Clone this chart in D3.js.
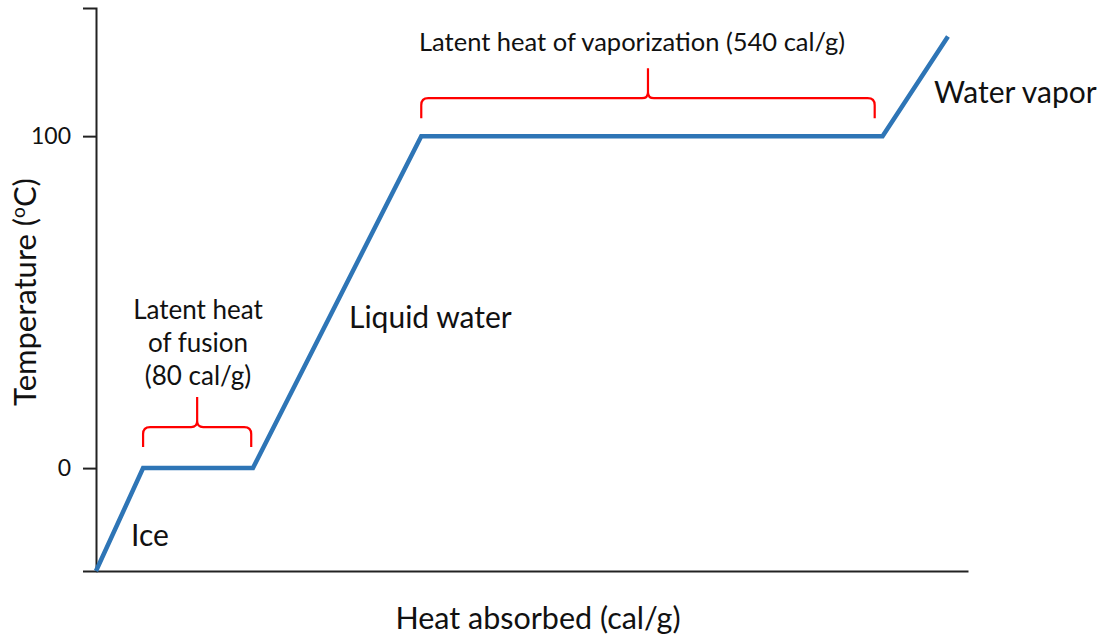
<!DOCTYPE html>
<html>
<head>
<meta charset="utf-8">
<script src="https://cdn.jsdelivr.net/npm/d3@7"></script>
<style>
  html, body { margin: 0; padding: 0; background: #fff; }
  svg { display: block; }
  text { font-family: Lato, "Open Sans", sans-serif; fill: #111; }
</style>
</head>
<body>
<svg id="chart" width="1104" height="639"></svg>
<script>
// Heating curve of water (schematic heat axis)
const heat = [0, 54, 180, 373, 902, 977];
const temperature = [-31, 0, 0, 100, 100, 130];
const tempTicks = [0, 100];
const tempTickLabels = ["0", "100"];

// Braces marking the latent-heat plateaus
const braceNames = ["fusion", "vaporization"];
const braceStart = [54, 373];
const braceEnd = [178, 893];
const braceLevel = [0, 100];

const svg = d3.select("#chart");
const x = d3.scaleLinear().domain([0, 1000]).range([96, 968]);
const y = d3.scaleLinear().domain([-31, 138.6]).range([571, 8]);

// Axes
const axisColor = "#222";
const yAxis = svg.append("g")
  .attr("transform", `translate(${x(0)},0)`)
  .call(d3.axisLeft(y).tickValues(tempTicks)
    .tickFormat((d, i) => tempTickLabels[i])
    .tickSizeOuter(0).tickSize(13).tickPadding(12));
yAxis.select(".domain").attr("stroke", axisColor).attr("stroke-width", 2);
yAxis.selectAll(".tick line").attr("stroke", axisColor).attr("stroke-width", 2);
yAxis.selectAll(".tick text")
  .attr("font-size", 23).attr("font-family", "Lato, sans-serif").attr("fill", "#111");

const xAxis = svg.append("g")
  .attr("transform", `translate(0,${y(-31)})`)
  .call(d3.axisBottom(x).tickValues([]).tickSizeOuter(0));
xAxis.select(".domain").attr("stroke", axisColor).attr("stroke-width", 2);

// Heating curve
const pts = heat.map((h, i) => [h, temperature[i]]);
svg.append("path")
  .datum(pts)
  .attr("fill", "none")
  .attr("stroke", "#2E75B6")
  .attr("stroke-width", 4.5)
  .attr("stroke-linejoin", "miter")
  .attr("d", d3.line().x(d => x(d[0])).y(d => y(d[1])));

// Curly braces above the plateaus
function bracePath(x0, x1, yb) {
  const base = yb - 18, bar = yb - 38, tip = yb - 68, r = 7, c = 6;
  const xm = (x0 + x1) / 2;
  return `M${x0},${base} V${bar + r} Q${x0},${bar} ${x0 + r},${bar} H${xm - c} ` +
         `Q${xm},${bar} ${xm},${bar - c} V${tip} ` +
         `M${xm},${bar - c} Q${xm},${bar} ${xm + c},${bar} H${x1 - r} ` +
         `Q${x1},${bar} ${x1},${bar + r} V${base}`;
}
svg.selectAll("path.brace")
  .data(braceNames)
  .join("path")
  .attr("class", "brace")
  .attr("fill", "none")
  .attr("stroke", "#f00")
  .attr("stroke-width", 2.2)
  .attr("d", (d, i) => bracePath(x(braceStart[i]), x(braceEnd[i]), y(braceLevel[i]) - (i === 0 ? 3 : 0)));

// Annotations
svg.append("text").attr("x", 419).attr("y", 51).attr("font-size", 25.5)
  .text("Latent heat of vaporization (540 cal/g)");

const fusion = svg.append("text").attr("text-anchor", "middle").attr("font-size", 26);
["Latent heat", "of fusion", "(80 cal/g)"].forEach((t, i) => {
  fusion.append("tspan").attr("x", 198).attr("y", 319 + i * 33).text(t);
});

svg.append("text").attr("x", 349).attr("y", 328).attr("font-size", 30).text("Liquid water");
svg.append("text").attr("x", 934).attr("y", 103).attr("font-size", 30).text("Water vapor");
svg.append("text").attr("x", 131).attr("y", 546).attr("font-size", 30).text("Ice");

// Axis titles
svg.append("text").attr("x", 538).attr("y", 629).attr("text-anchor", "middle")
  .attr("font-size", 30.5).text("Heat absorbed (cal/g)");

const yt = svg.append("text")
  .attr("transform", "translate(36,292) rotate(-90)")
  .attr("text-anchor", "middle").attr("font-size", 31);
yt.append("tspan").text("Temperature (");
yt.append("tspan").attr("font-size", 19).attr("dy", -11).text("o");
yt.append("tspan").attr("dy", 11).text("C)");
</script>
</body>
</html>
